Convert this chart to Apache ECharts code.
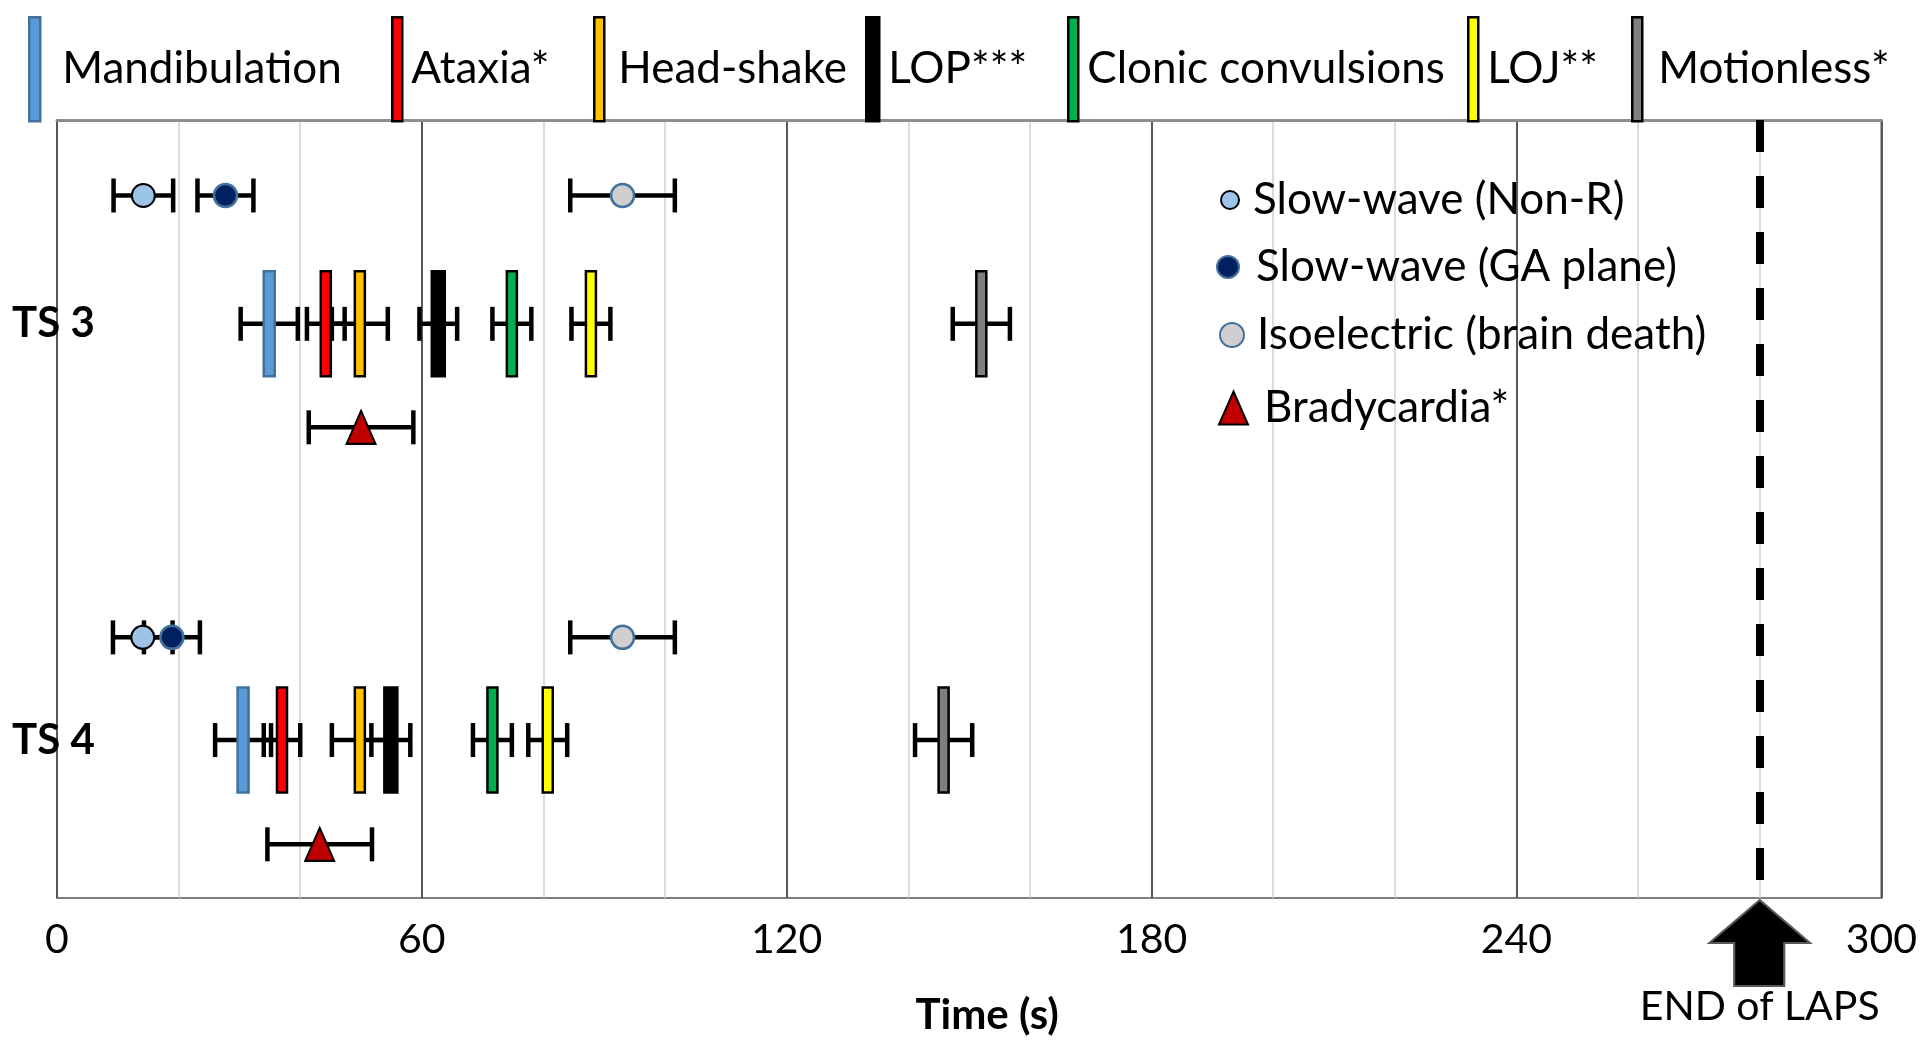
<!DOCTYPE html>
<html>
<head>
<meta charset="utf-8">
<title>LAPS time course</title>
<script src="https://cdn.jsdelivr.net/npm/echarts@6/dist/echarts.min.js"></script>
<style>
html, body { margin: 0; padding: 0; background: #fff; }
#main { width: 1920px; height: 1041px; }
</style>
</head>
<body>
<div id="main"></div>
<script>
// treatment groups shown on the y axis
const groups = ['TS 3', 'TS 4'];

// behavioural end-points, mean time (s) and SEM for [TS 3, TS 4]
const behaviours = ['Mandibulation', 'Ataxia*', 'Head-shake', 'LOP***', 'Clonic convulsions', 'LOJ**', 'Motionless*'];
const behaviourMean = [
  [34.9, 30.6],
  [44.2, 37.0],
  [49.8, 49.8],
  [62.7, 54.9],
  [74.8, 71.6],
  [87.8, 80.7],
  [152.0, 145.8]
];
const behaviourSem = [
  [4.7, 4.6],
  [3.1, 3.0],
  [4.6, 4.6],
  [3.1, 3.2],
  [3.2, 3.2],
  [3.2, 3.2],
  [4.7, 4.7]
];

// EEG states
const eegStates = ['Slow-wave (Non-R)', 'Slow-wave (GA plane)', 'Isoelectric (brain death)'];
const eegMean = [
  [14.2, 14.1],
  [27.7, 18.9],
  [93.0, 93.0]
];
const eegSem = [
  [4.9, 4.9],
  [4.6, 4.6],
  [8.6, 8.6]
];

// heart rate
const bradyName = 'Bradycardia*';
const bradyMean = [50.0, 43.2];
const bradySem = [8.6, 8.6];

// end of the LAPS cycle (s)
const endOfLaps = 280;
const endLabel = 'END of LAPS';

// vertical level of each row of marks (0 = top, 100 = bottom)
const rowLevel = {
  eeg: [9.7, 66.5],
  behaviour: [26.2, 79.7],
  brady: [39.5, 93.1]
};

const FONT = 'Lato';
const barColors = ['#5B9BD5', '#FF0000', '#FFC000', '#000000', '#00B050', '#FFFF00', '#7F7F7F'];
const barBorders = ['#41719C', '#000', '#000', '#000', '#000', '#000', '#000'];
const barWidths = [11, 10, 10, 13, 10, 10, 10];
const barHeight = 105;
// legend layout at the top: icon left and gap to text
const topLegendLeft = [23, 386, 588, 860, 1062, 1462, 1626];
const topLegendGap = [22, 9, 14, 9, 9, 9, 16];

const eegStyle = [
  { color: '#9DC3E6', borderColor: '#000', borderWidth: 2 },
  { color: '#002060', borderColor: '#41719C', borderWidth: 2.5 },
  { color: '#D0CECE', borderColor: '#41719C', borderWidth: 2.5 }
];
const bradyStyle = { color: '#C00000', borderColor: '#000', borderWidth: 2 };

// error bar data: [mean, level, sem]
const errData = [];
behaviours.forEach((b, i) => groups.forEach((g, k) => errData.push([behaviourMean[i][k], rowLevel.behaviour[k], behaviourSem[i][k]])));
eegStates.forEach((e, i) => groups.forEach((g, k) => errData.push([eegMean[i][k], rowLevel.eeg[k], eegSem[i][k]])));
groups.forEach((g, k) => errData.push([bradyMean[k], rowLevel.brady[k], bradySem[k]]));

function renderErr(params, api) {
  const lo = api.coord([api.value(0) - api.value(2), api.value(1)]);
  const hi = api.coord([api.value(0) + api.value(2), api.value(1)]);
  const h = 17;
  const style = { stroke: '#000', lineWidth: 4.5, fill: null };
  return {
    type: 'group',
    children: [
      { type: 'line', shape: { x1: lo[0], y1: lo[1], x2: hi[0], y2: hi[1] }, style: style },
      { type: 'line', shape: { x1: lo[0], y1: lo[1] - h, x2: lo[0], y2: lo[1] + h }, style: style },
      { type: 'line', shape: { x1: hi[0], y1: hi[1] - h, x2: hi[0], y2: hi[1] + h }, style: style }
    ]
  };
}

// vertical marker bar for a behavioural end-point
function barRenderer(i) {
  return function (params, api) {
    const c = api.coord([api.value(0), api.value(1)]);
    const w = barWidths[i];
    return {
      type: 'rect',
      shape: { x: c[0] - w / 2, y: c[1] - barHeight / 2, width: w, height: barHeight },
      style: { fill: barColors[i], stroke: barBorders[i], lineWidth: 2.5 }
    };
  };
}

const series = [];

series.push({
  name: 'errors',
  type: 'custom',
  renderItem: renderErr,
  encode: { x: 0, y: 1 },
  data: errData,
  z: 2,
  silent: true,
  markLine: {
    silent: true,
    symbol: 'none',
    label: { show: false },
    lineStyle: { color: '#000', width: 8, type: [32, 24] },
    data: [{ xAxis: endOfLaps }]
  },
  markPoint: {
    silent: true,
    symbol: 'path://M50.5,0 L101,43 L75,43 L75,86 L25,86 L25,43 L0,43 Z',
    symbolSize: [101, 86],
    symbolKeepAspect: false,
    symbolOffset: [0, 45],
    itemStyle: { color: '#000', borderColor: '#595959', borderWidth: 2 },
    label: {
      show: true,
      position: 'bottom',
      distance: -1,
      formatter: endLabel,
      color: '#000',
      fontFamily: FONT,
      fontSize: 41
    },
    data: [{ coord: [endOfLaps, 100] }]
  }
});

behaviours.forEach((name, i) => {
  series.push({
    name: name,
    type: 'custom',
    renderItem: barRenderer(i),
    encode: { x: 0, y: 1 },
    z: 3,
    itemStyle: { color: barColors[i], borderColor: barBorders[i], borderWidth: 2.5 },
    data: groups.map((g, k) => [behaviourMean[i][k], rowLevel.behaviour[k]])
  });
});

eegStates.forEach((name, i) => {
  series.push({
    name: name,
    type: 'scatter',
    symbol: 'circle',
    symbolSize: 23,
    z: 3,
    itemStyle: Object.assign({ opacity: 1 }, eegStyle[i]),
    data: groups.map((g, k) => [eegMean[i][k], rowLevel.eeg[k]])
  });
});

series.push({
  name: bradyName,
  type: 'scatter',
  symbol: 'triangle',
  symbolSize: [29, 33],
  z: 3,
  itemStyle: Object.assign({ opacity: 1 }, bradyStyle),
  data: groups.map((g, k) => [bradyMean[k], rowLevel.brady[k]])
});

// one legend per entry so each sits where it does in the figure
const legends = behaviours.map((name, i) => ({
  left: topLegendLeft[i],
  top: 11,
  icon: 'rect',
  itemWidth: barWidths[i],
  itemHeight: 104,
  selectedMode: false,
  itemStyle: { color: barColors[i], borderColor: barBorders[i], borderWidth: 2.5 },
  textStyle: { color: '#000', fontFamily: FONT, fontSize: 44, padding: [0, 0, 0, topLegendGap[i] - 5] },
  data: [name]
}));

const sideNames = eegStates.concat([bradyName]);
const sideCenterY = [195, 262, 330, 403];
const sideIcon = ['circle', 'circle', 'circle', 'triangle'];
const sideIconSize = [[18, 24], [24, 22], [24, 24], [29, 33]];
const sideIconLeft = [1215, 1211, 1214, 1213];
const sideTextLeft = [1247, 1251, 1251, 1258];
sideNames.forEach((name, i) => {
  legends.push({
    left: sideIconLeft[i],
    top: sideCenterY[i] - 25,
    icon: sideIcon[i],
    itemWidth: sideIconSize[i][0],
    itemHeight: sideIconSize[i][1],
    symbolKeepAspect: false,
    selectedMode: false,
    textStyle: {
      color: '#000', fontFamily: FONT, fontSize: 44, lineHeight: 50,
      padding: [0, 0, 0, sideTextLeft[i] - sideIconLeft[i] - sideIconSize[i][0] - 5]
    },
    data: [name]
  });
});

const option = {
  backgroundColor: '#fff',
  animation: false,
  textStyle: { fontFamily: FONT },
  legend: legends,
  grid: {
    left: 57,
    right: 28,
    top: 120,
    bottom: 134,
    show: true,
    borderColor: '#7f7f7f',
    borderWidth: 2
  },
  xAxis: [
    {
      type: 'value',
      min: 0,
      max: 300,
      interval: 60,
      position: 'bottom',
      axisLine: { lineStyle: { color: '#8c8c8c', width: 3 } },
      axisTick: { show: false },
      axisLabel: { color: '#000', fontFamily: FONT, fontSize: 41, margin: 21 },
      splitLine: { show: true, lineStyle: { color: '#595959', width: 2 } },
      name: 'Time (s)',
      nameLocation: 'middle',
      nameGap: 96,
      nameTextStyle: { color: '#000', fontFamily: FONT, fontSize: 42, fontWeight: 'bold', padding: [0, 0, 0, 36] }
    },
    {
      type: 'value',
      min: 0,
      max: 300,
      interval: 20,
      position: 'bottom',
      axisLine: { show: false },
      axisTick: { show: false },
      axisLabel: { show: false },
      splitLine: { show: true, lineStyle: { color: ['rgba(0,0,0,0)', '#d0d0d0', '#d0d0d0'], width: 1.5 } }
    }
  ],
  yAxis: {
    type: 'value',
    min: 0,
    max: 100,
    inverse: true,
    axisLine: { show: false },
    axisTick: { show: false },
    splitLine: { show: false },
    axisLabel: {
      customValues: rowLevel.behaviour,
      formatter: v => groups[rowLevel.behaviour.indexOf(v)] || '',
      color: '#000',
      fontFamily: FONT,
      fontWeight: 'bold',
      fontSize: 42,
      align: 'left',
      margin: 45
    }
  },
  series: series
};

const chart = echarts.init(document.getElementById('main'));
chart.setOption(option);
</script>
</body>
</html>
